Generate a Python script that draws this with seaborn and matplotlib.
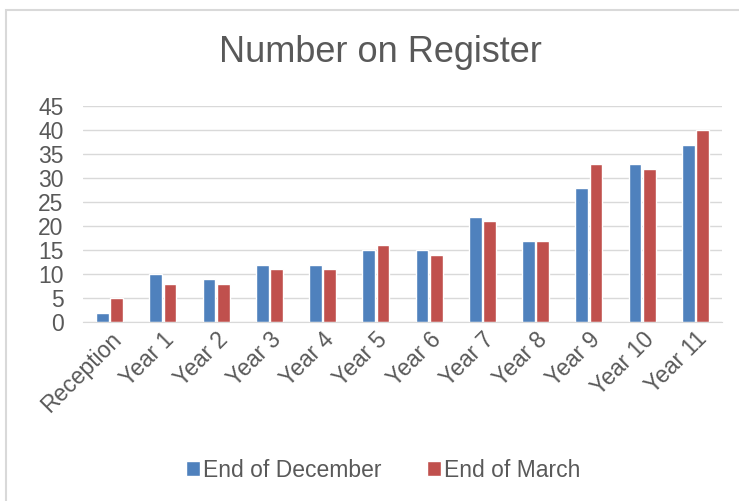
import pandas as pd
import seaborn as sns
import matplotlib.pyplot as plt
from matplotlib.patches import Rectangle

categories = ['Reception', 'Year 1', 'Year 2', 'Year 3', 'Year 4', 'Year 5',
              'Year 6', 'Year 7', 'Year 8', 'Year 9', 'Year 10', 'Year 11']
end_dec = [2, 10, 9, 12, 12, 15, 15, 22, 17, 28, 33, 37]
end_mar = [5, 8, 8, 11, 11, 16, 14, 21, 17, 33, 32, 40]
series = ['End of December', 'End of March']
colors = ['#4F81BD', '#C0504D']

df = pd.DataFrame({
    'Year': categories * 2,
    'Count': end_dec + end_mar,
    'Series': [series[0]] * len(categories) + [series[1]] * len(categories),
})

sns.set_style('white')
plt.rcParams['font.family'] = ['Liberation Sans', 'DejaVu Sans']
txt = '#595959'

fig = plt.figure(figsize=(7.39, 5.01), dpi=100)
ax = fig.add_axes([0.1123, 0.357, 0.8647, 0.431])

sns.barplot(data=df, x='Year', y='Count', hue='Series', palette=colors,
            width=0.54, gap=0.12, saturation=1, ax=ax, legend=True)

ax.set_ylim(0, 45)
ax.set_yticks(range(0, 46, 5))
ax.yaxis.grid(True, color='#D9D9D9', linewidth=1)
ax.set_axisbelow(True)
for s in ['top', 'right', 'left']:
    ax.spines[s].set_visible(False)
ax.spines['bottom'].set_color('#D9D9D9')
ax.set_xlim(-0.5, len(categories) - 0.5)
ax.set_xlabel('')
ax.set_ylabel('')
ax.tick_params(axis='both', length=0, labelsize=16.5, labelcolor=txt)
ax.tick_params(axis='y', pad=14)
ax.tick_params(axis='x', pad=4)
plt.setp(ax.get_xticklabels(), rotation=45, ha='right', rotation_mode='anchor')

ax.legend(loc='center', bbox_to_anchor=(0.47, -0.685), ncol=2, frameon=False,
          fontsize=16.5, labelcolor=txt, handlelength=0.6, handleheight=0.6,
          handletextpad=0.15, columnspacing=2.0)

fig.text(0.515, 0.876, 'Number on Register', ha='center', va='baseline',
         fontsize=26, color=txt)

fig.patches.append(Rectangle((0.008, -0.01), 1.0, 0.991, transform=fig.transFigure,
                             fill=False, edgecolor='#D9D9D9', linewidth=1.5))

fig.savefig('out.png', dpi=100)
